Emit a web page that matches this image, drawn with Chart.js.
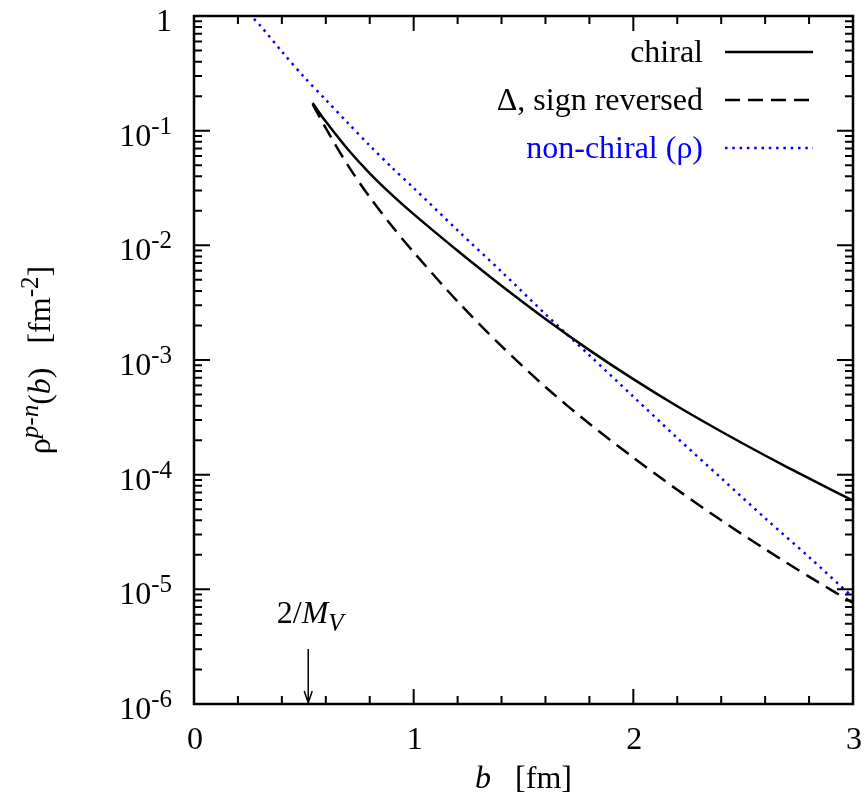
<!DOCTYPE html>
<html>
<head>
<meta charset="utf-8">
<script src="https://cdn.jsdelivr.net/npm/chart.js@4.4.1/dist/chart.umd.min.js"></script>
<style>
  html, body { margin: 0; padding: 0; background: #fff; }
</style>
</head>
<body>
<canvas id="rhoChart" width="865" height="803"></canvas>
<script>
// impact parameter b [fm] and transverse density rho^{p-n}(b) [fm^-2]
const bChiral = [0.54, 0.6, 0.7, 0.8, 0.9, 1.0, 1.1, 1.2, 1.4, 1.6, 1.8, 2.0, 2.2, 2.4, 2.6, 2.8, 3.0];
const rhoChiral = [0.174, 0.120, 0.0689, 0.0425, 0.0277, 0.0187, 0.0129, 0.00897, 0.00444, 0.00228,
                   0.00122, 0.000681, 0.000395, 0.000238, 0.000147, 0.0000927, 0.0000593];

const bDelta = [0.54, 0.6, 0.7, 0.8, 0.9, 1.0, 1.2, 1.4, 1.6, 1.8, 2.0, 2.2, 2.4, 2.6, 2.8, 3.0];
const rhoDelta = [0.170, 0.105, 0.0501, 0.0263, 0.0148, 0.00871, 0.00324, 0.00132, 0.000581, 0.000278,
                  0.000141, 0.0000738, 0.0000400, 0.0000224, 0.0000129, 0.00000762];

const bNonChiral = [0.25, 0.3, 0.4, 0.5, 0.6, 0.7, 0.8, 0.9, 1.0, 1.2, 1.4, 1.6, 1.8, 2.0, 2.2, 2.4, 2.6, 2.8, 3.0];
const rhoNonChiral = [1.05, 0.832, 0.490, 0.295, 0.186, 0.117, 0.0741, 0.0479, 0.0316, 0.0135, 0.00589,
                      0.00251, 0.00110, 0.000479, 0.000209, 0.0000933, 0.0000417, 0.0000191, 0.00000851];

const seriesLabels = ['chiral', '\u0394, sign reversed', 'non-chiral (\u03c1)'];
const xTickLabels = ['0', '1', '2', '3'];
const yTickExps = [0, -1, -2, -3, -4, -5, -6];
const arrowB = 0.52; // 2/M_V

const FONT = '"Liberation Serif", "Times New Roman", serif';
const F = '32px ' + FONT;
const FI = 'italic 32px ' + FONT;
const FS = '25px ' + FONT;
const FSI = 'italic 25px ' + FONT;

function toPoints(xs, ys) {
    return xs.map((x, i) => ({ x: x, y: ys[i] }));
}

// draw a run of text pieces (for super/subscripts)
function drawParts(ctx, parts, x, y, align) {
    let w = 0;
    parts.forEach(p => {
        ctx.font = p.font;
        p.w = ctx.measureText(p.t).width;
        w += p.w;
    });
    let cx = x;
    if (align === 'right') cx = x - w;
    else if (align === 'center') cx = x - w / 2;
    ctx.textAlign = 'left';
    ctx.textBaseline = 'alphabetic';
    parts.forEach(p => {
        ctx.font = p.font;
        ctx.fillStyle = p.color || '#000';
        ctx.fillText(p.t, cx, y + (p.dy || 0));
        cx += p.w;
    });
}

const framePlugin = {
    id: 'gnuplotFrame',
    afterDraw(chart) {
        const ctx = chart.ctx;
        const area = chart.chartArea;
        const xs = chart.scales.x;
        const ys = chart.scales.y;
        ctx.save();
        ctx.strokeStyle = '#000';
        ctx.fillStyle = '#000';

        // ticks, pointing inwards, mirrored
        ctx.lineWidth = 2;
        ctx.beginPath();
        for (let k = 0; k <= 15; k++) {
            const px = xs.getPixelForValue(k / 5);
            const len = (k % 5 === 0) ? 15 : 8;
            ctx.moveTo(px, area.bottom); ctx.lineTo(px, area.bottom - len);
            ctx.moveTo(px, area.top); ctx.lineTo(px, area.top + len);
        }
        yTickExps.forEach(e => {
            const py = ys.getPixelForValue(Math.pow(10, e));
            ctx.moveTo(area.left, py); ctx.lineTo(area.left + 16, py);
            ctx.moveTo(area.right, py); ctx.lineTo(area.right - 16, py);
            if (e < 0) {
                for (let m = 2; m <= 9; m++) {
                    const pm = ys.getPixelForValue(m * Math.pow(10, e));
                    ctx.moveTo(area.left, pm); ctx.lineTo(area.left + 8, pm);
                    ctx.moveTo(area.right, pm); ctx.lineTo(area.right - 8, pm);
                }
            }
        });
        ctx.stroke();

        // border
        ctx.lineWidth = 2.5;
        ctx.strokeRect(area.left, area.top, area.right - area.left, area.bottom - area.top);

        // y tick labels
        yTickExps.forEach(e => {
            const py = ys.getPixelForValue(Math.pow(10, e));
            const parts = e === 0 ? [{ t: '1', font: F }]
                : [{ t: '10', font: F }, { t: String(e), font: FS, dy: -12 }];
            drawParts(ctx, parts, area.left - 22, py + 15, 'right');
        });

        // x tick labels
        xTickLabels.forEach(l => {
            const px = xs.getPixelForValue(Number(l));
            drawParts(ctx, [{ t: l, font: F }], px + 1, 749, 'center');
        });

        // x title
        drawParts(ctx, [{ t: 'b', font: FI }, { t: '   [fm]', font: F }],
            (area.left + area.right) / 2, 788, 'center');

        // y title
        ctx.save();
        ctx.translate(50, (area.top + area.bottom) / 2);
        ctx.rotate(-Math.PI / 2);
        drawParts(ctx, [
            { t: '\u03c1', font: F },
            { t: 'p-n', font: FSI, dy: -12 },
            { t: '(', font: F },
            { t: 'b', font: FI },
            { t: ')   [fm', font: F },
            { t: '-2', font: FS, dy: -12 },
            { t: ']', font: F }
        ], 0, 0, 'center');
        ctx.restore();

        // legend
        chart.data.datasets.forEach((ds, i) => {
            const ly = 52 + i * 48;
            drawParts(ctx, [{ t: ds.label, font: F, color: ds.borderColor }], 703, ly + 10, 'right');
            ctx.save();
            ctx.strokeStyle = ds.borderColor;
            ctx.lineWidth = ds.borderWidth;
            ctx.setLineDash(ds.borderDash || []);
            ctx.beginPath();
            ctx.moveTo(725, ly);
            ctx.lineTo(813, ly);
            ctx.stroke();
            ctx.restore();
        });

        // 2/M_V arrow
        const ax = xs.getPixelForValue(arrowB);
        ctx.lineWidth = 1.5;
        ctx.beginPath();
        ctx.moveTo(ax, 649);
        ctx.lineTo(ax, area.bottom - 1);
        ctx.moveTo(ax - 4, area.bottom - 13);
        ctx.lineTo(ax, area.bottom - 1);
        ctx.lineTo(ax + 4, area.bottom - 13);
        ctx.stroke();
        drawParts(ctx, [
            { t: '2/', font: F },
            { t: 'M', font: FI },
            { t: 'V', font: FSI, dy: 8 }
        ], ax + 2, 623, 'center');

        ctx.restore();
    }
};

const ctx = document.getElementById('rhoChart').getContext('2d');
const rhoChart = new Chart(ctx, {
    type: 'line',
    data: {
        datasets: [{
            label: seriesLabels[0],
            data: toPoints(bChiral, rhoChiral),
            borderColor: '#000000',
            borderWidth: 2.5
        }, {
            label: seriesLabels[1],
            data: toPoints(bDelta, rhoDelta),
            borderColor: '#000000',
            borderWidth: 2.5,
            borderDash: [15, 8]
        }, {
            label: seriesLabels[2],
            data: toPoints(bNonChiral, rhoNonChiral),
            borderColor: '#0000ff',
            borderWidth: 2.5,
            borderDash: [2.5, 4.8]
        }]
    },
    options: {
        responsive: false,
        animation: false,
        layout: { padding: { left: 194, top: 16, right: 12, bottom: 99 } },
        elements: {
            point: { radius: 0 },
            line: { tension: 0.3, fill: false }
        },
        plugins: { legend: { display: false }, tooltip: { enabled: false } },
        scales: {
            x: { type: 'linear', min: 0, max: 3, display: false },
            y: { type: 'logarithmic', min: 1e-6, max: 1, display: false }
        }
    },
    plugins: [framePlugin]
});
</script>
</body>
</html>
